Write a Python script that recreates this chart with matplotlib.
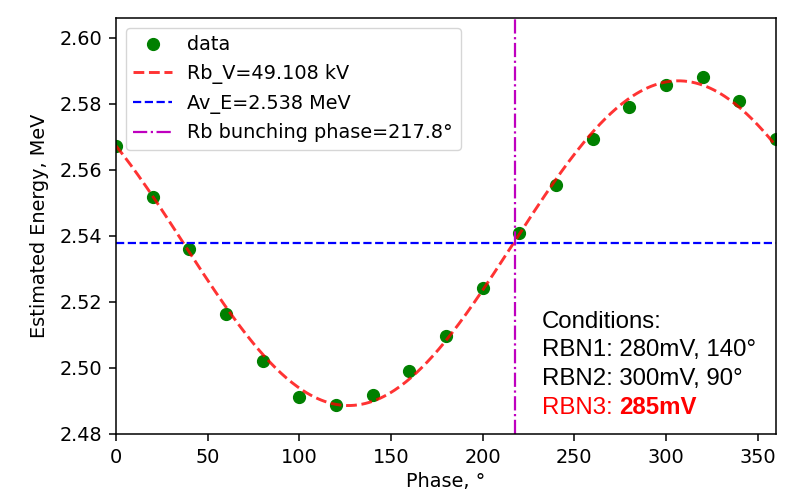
import numpy as np
import matplotlib
matplotlib.use("Agg")
import matplotlib.pyplot as plt
from matplotlib import font_manager as fm

plt.rcParams['font.family'] = ['DejaVu Sans']
plt.rcParams['font.size'] = 13.9
plt.rcParams['axes.linewidth'] = 1.1
plt.rcParams['xtick.major.width'] = 1.1
plt.rcParams['ytick.major.width'] = 1.1
plt.rcParams['xtick.major.size'] = 4.9
plt.rcParams['ytick.major.size'] = 4.9
plt.rcParams['xtick.major.pad'] = 4.9
plt.rcParams['ytick.major.pad'] = 4.9

# measured points
phase = [0, 20, 40, 60, 80, 100, 120, 140, 160, 180, 200, 220, 240, 260, 280, 300, 320, 340, 360]
energy = [2.5673, 2.5518, 2.5360, 2.5164, 2.5021, 2.4912, 2.4888, 2.4918, 2.4991, 2.5097,
          2.5242, 2.5409, 2.5555, 2.5694, 2.5791, 2.5858, 2.5882, 2.5809, 2.5694]
avg_e = 2.538
bunch_phase = 217.8
rb_v = 49.108

fp = fm.FontProperties(family='Liberation Sans', size=17.3)
fpb = fm.FontProperties(family='Liberation Sans', size=17.3, weight='bold')

# sine fit to the points
ph = np.radians(phase)
A = np.column_stack([np.ones(len(ph)), np.sin(ph), np.cos(ph)])
coef = np.linalg.lstsq(A, np.array(energy), rcond=None)[0]
xf = np.linspace(0, 360, 361)
yf = coef[0] + coef[1]*np.sin(np.radians(xf)) + coef[2]*np.cos(np.radians(xf))

fig = plt.figure(figsize=(7.98, 4.91), dpi=100)
ax = fig.add_axes([0.1454, 0.1161, 0.827, 0.8472])

ax.plot(phase, energy, 'o', color='green', markersize=8.5, label='data')
ax.plot(xf, yf, '--', color='red', lw=2.1, alpha=0.8, label='Rb_V=%.3f kV' % rb_v)
ax.axhline(avg_e, ls='--', color='blue', lw=1.6, label='Av_E=%.3f MeV' % avg_e)
ax.axvline(bunch_phase, ls='-.', color='m', lw=1.6, label='Rb bunching phase=%.1f°' % bunch_phase)

ax.set_xlim(0, 360)
ax.set_ylim(2.48, 2.606)
ax.set_yticks([2.48, 2.50, 2.52, 2.54, 2.56, 2.58, 2.60])
ax.set_xlabel('Phase, °')
ax.set_ylabel('Estimated Energy, MeV', labelpad=8)
ax.legend(loc='upper left')

ax.text(0.645, 0.256, 'Conditions:', transform=ax.transAxes, fontproperties=fp)
ax.text(0.645, 0.187, 'RBN1: 280mV, 140°', transform=ax.transAxes, fontproperties=fp)
ax.text(0.645, 0.118, 'RBN2: 300mV, 90°', transform=ax.transAxes, fontproperties=fp)
t = ax.text(0.645, 0.049, 'RBN3: ', transform=ax.transAxes, fontproperties=fp, color='red')
ax.annotate('285mV', xycoords=t, xy=(1, 0), va='bottom', fontproperties=fpb, color='red')

fig.savefig('out.png', dpi=100)
